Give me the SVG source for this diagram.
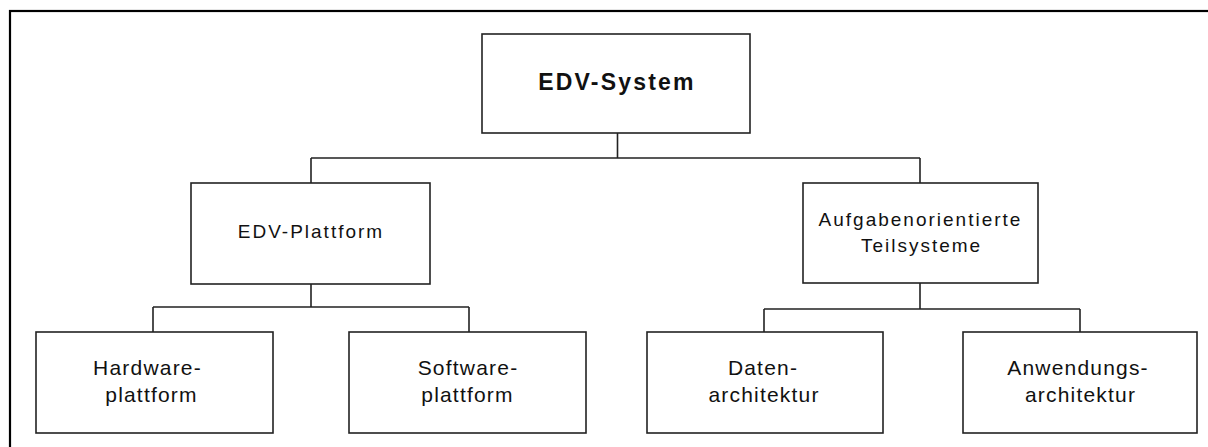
<svg xmlns="http://www.w3.org/2000/svg" width="1208" height="447" viewBox="0 0 1208 447">
<style>
.box{fill:#fff;stroke:#222;stroke-width:1.6}
.frame{fill:none;stroke:#000;stroke-width:2.2}
.con{fill:none;stroke:#222;stroke-width:1.6}
text{font-family:"Liberation Sans",Arial,sans-serif;fill:#111;text-anchor:middle}
.root{font-size:23px;font-weight:bold;letter-spacing:2.2px}
.mid{font-size:19px;letter-spacing:2px}
.leaf{font-size:21px;letter-spacing:1.2px}
</style>
<rect width="1208" height="447" fill="#fff"/>
<rect class="frame" x="10" y="11" width="1220" height="460"/>
<g id="connectors">
<path class="con" d="M617.5,133 V158 M311,158 H920 M311,158 V183 M920,158 V183"/>
<path class="con" d="M311,284 V307 M153,307 H469 M153,307 V332 M469,307 V332"/>
<path class="con" d="M920,283 V309 M764,309 H1080 M764,309 V332 M1080,309 V332"/>
</g>
<g id="n-root">
<rect class="box" x="482" y="34" width="268" height="99"/>
<text class="root" x="617" y="90">EDV-System</text>
</g>
<g id="n-plattform">
<rect class="box" x="191" y="183" width="239" height="101"/>
<text class="mid" x="311" y="238">EDV-Plattform</text>
</g>
<g id="n-aufgaben">
<rect class="box" x="803" y="183" width="235" height="100"/>
<text class="mid" x="920.5" y="226">Aufgabenorientierte</text>
<text class="mid" x="921.5" y="252">Teilsysteme</text>
</g>
<g id="n-hardware">
<rect class="box" x="36" y="332" width="237" height="101"/>
<text class="leaf" x="147.5" y="375">Hardware-</text>
<text class="leaf" x="151.5" y="402">plattform</text>
</g>
<g id="n-software">
<rect class="box" x="349" y="332" width="237" height="101"/>
<text class="leaf" x="468" y="375">Software-</text>
<text class="leaf" x="467.5" y="402">plattform</text>
</g>
<g id="n-daten">
<rect class="box" x="647" y="332" width="236" height="101"/>
<text class="leaf" x="763" y="375">Daten-</text>
<text class="leaf" x="764" y="402">architektur</text>
</g>
<g id="n-anwendung">
<rect class="box" x="963" y="332" width="234" height="101"/>
<text class="leaf" x="1078" y="375">Anwendungs-</text>
<text class="leaf" x="1080.5" y="402">architektur</text>
</g>
</svg>
